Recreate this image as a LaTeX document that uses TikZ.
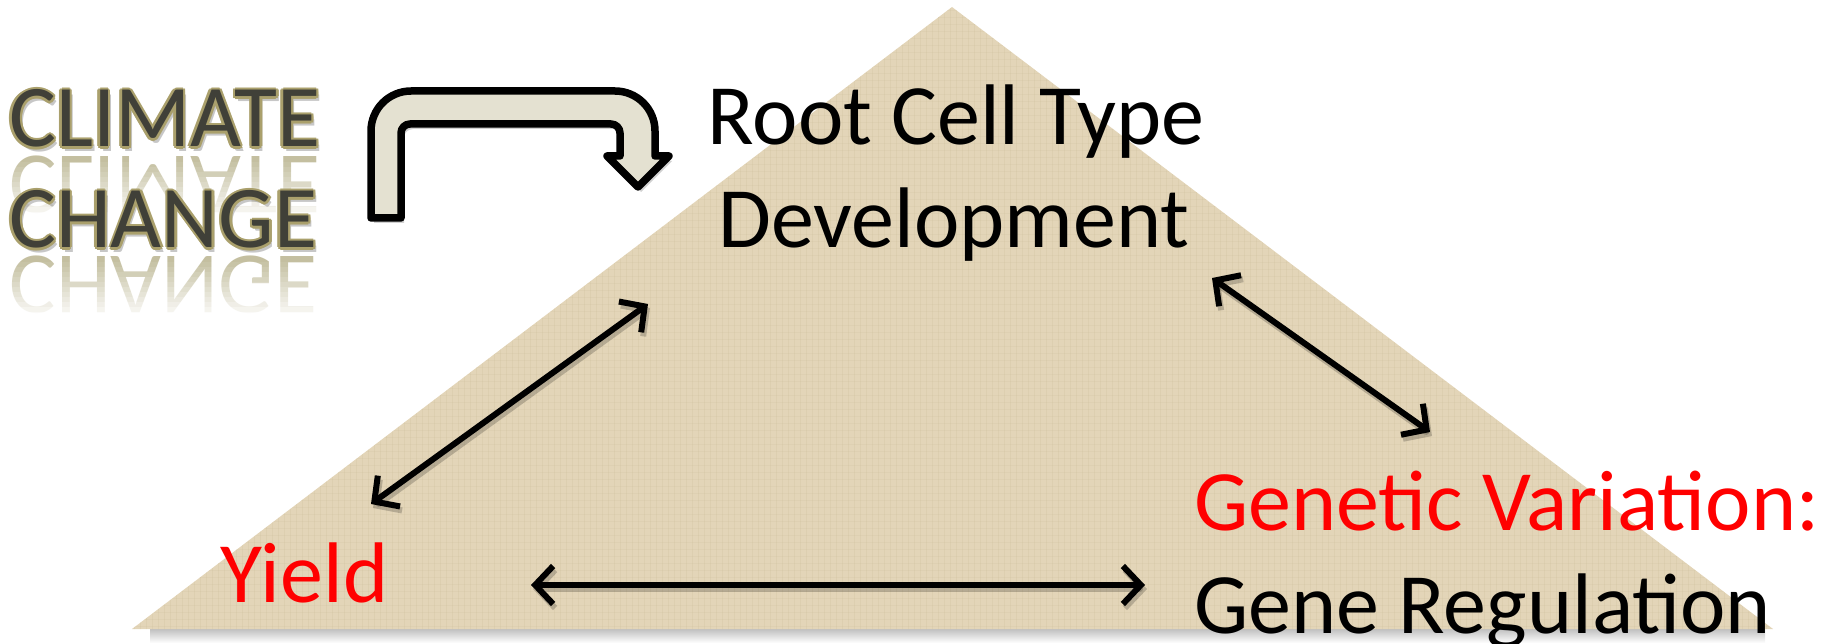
\documentclass[tikz,border=0pt]{standalone}
\usepackage{fontspec}
\setmainfont{Carlito}
\usetikzlibrary{arrows.meta}
\definecolor{tri}{RGB}{227,213,184}
\definecolor{linen}{RGB}{196,180,142}
\definecolor{bentfill}{RGB}{228,225,209}
\definecolor{rim}{RGB}{170,160,108}
\definecolor{core}{RGB}{64,64,56}
\definecolor{refl}{RGB}{196,191,160}
\definecolor{redtext}{RGB}{255,0,0}
\tikzset{
  lbl/.style={inner sep=0pt, font=\fontsize{86}{106}\selectfont},
  climlbl/.style={inner sep=0pt, font=\fontsize{88}{106}\selectfont},
  link/.style={line width=6pt, {Straight Barb[length=18pt,width=38pt]}-{Straight Barb[length=18pt,width=38pt]}, line cap=round, line join=round},
  linkshadow/.style={link, black, opacity=0.2},
  bentshape/.style={fill=bentfill, draw=black, line width=7.5pt, line join=round},
}
\newcommand\climword[4]{% name, x, baseline, text
  \node[climlbl, anchor=base west, text=black, opacity=0.22] at (#2+3,#3+5) {#4};
  \foreach \dx/\dy in {2.5/0,-2.5/0,0/2.5,0/-2.5,1.8/1.8,1.8/-1.8,-1.8/1.8,-1.8/-1.8}
    \node[climlbl, anchor=base west, text=rim] at (#2+\dx,#3+\dy) {#4};
  \node[climlbl, anchor=base west, text=core] (#1) at (#2,#3) {#4};
}
\newcommand\bentoutline{(371,218) -- (371,131) arc[start angle=180, end angle=270, radius=40] -- (615,91) arc[start angle=270, end angle=360, radius=40] -- (655,156) -- (669,156) -- (638,187) -- (607,156) -- (620,156) -- (620,133) arc[start angle=0, end angle=-90, radius=9] -- (410,124) arc[start angle=-90, end angle=-180, radius=9] -- (401,218) -- cycle}
\begin{document}
\begin{tikzpicture}[x=1pt,y=-1pt]
\useasboundingbox (0,0) rectangle (1837,644);
% triangle
\coordinate (apex) at (952,7);
\coordinate (bl) at (132,629);
\coordinate (br) at (1773,629);
\shade[top color=black!30, bottom color=white] (150,626) rectangle (1765,643);
\fill[tri] (apex) -- (bl) -- (br) -- cycle;
\begin{scope}
  \clip (apex) -- (bl) -- (br) -- cycle;
  \foreach \x in {134,140,...,1772} \draw[linen, opacity=0.18, line width=0.8pt] (\x,0) -- (\x,640);
  \foreach \y in {10,17,...,630} \draw[linen, opacity=0.14, line width=0.8pt] (120,\y) -- (1780,\y);
\end{scope}
% climate change reflections
\node[climlbl, anchor=base west, yscale=-1, text=refl] (climref) at (9,157) {CLIMATE};
\node[climlbl, anchor=base west, yscale=-1, text=refl] (changeref) at (9,257) {CHANGE};
\foreach \i [evaluate=\i as \op using \i/12] in {0,...,11} {
  \fill[white, opacity=\op] (0,157+\i*5) rectangle (345,162+\i*5);
  \fill[white, opacity=\op] (0,257+\i*5) rectangle (345,262+\i*5);
}
\fill[white] (0,217) rectangle (345,222);
\fill[white] (0,317) rectangle (345,340);
% climate change words
\climword{clim}{9}{147}{CLIMATE}
\climword{change}{9}{248}{CHANGE}
% bent arrow
\fill[black, opacity=0.18, shift={(3,5)}] \bentoutline;
\filldraw[bentshape] \bentoutline;
% labels
\node[lbl, anchor=base] (root) at (956,145) {Root Cell Type};
\node[lbl, anchor=base] (dev) at (954,248) {Development};
\node[lbl, anchor=base west, text=redtext] (genvar) at (1194,530) {Genetic Variation:};
\node[lbl, anchor=base west] (genreg) at (1194,633) {Gene Regulation};
\node[lbl, anchor=base west, text=redtext] (yield) at (220,602) {Yield};
% arrows
\coordinate (ldu) at (648,304);
\coordinate (ldl) at (371,504);
\coordinate (rdu) at (1212,278);
\coordinate (rdl) at (1430,432);
\coordinate (hl) at (531,585);
\coordinate (hr) at (1145,585);
\draw[linkshadow] ([shift={(2,4)}]ldu) -- ([shift={(2,4)}]ldl);
\draw[linkshadow] ([shift={(2,4)}]rdu) -- ([shift={(2,4)}]rdl);
\draw[linkshadow] ([shift={(2,4)}]hl) -- ([shift={(2,4)}]hr);
\draw[link] (ldu) -- (ldl);
\draw[link] (rdu) -- (rdl);
\draw[link] (hl) -- (hr);
\end{tikzpicture}
\end{document}
